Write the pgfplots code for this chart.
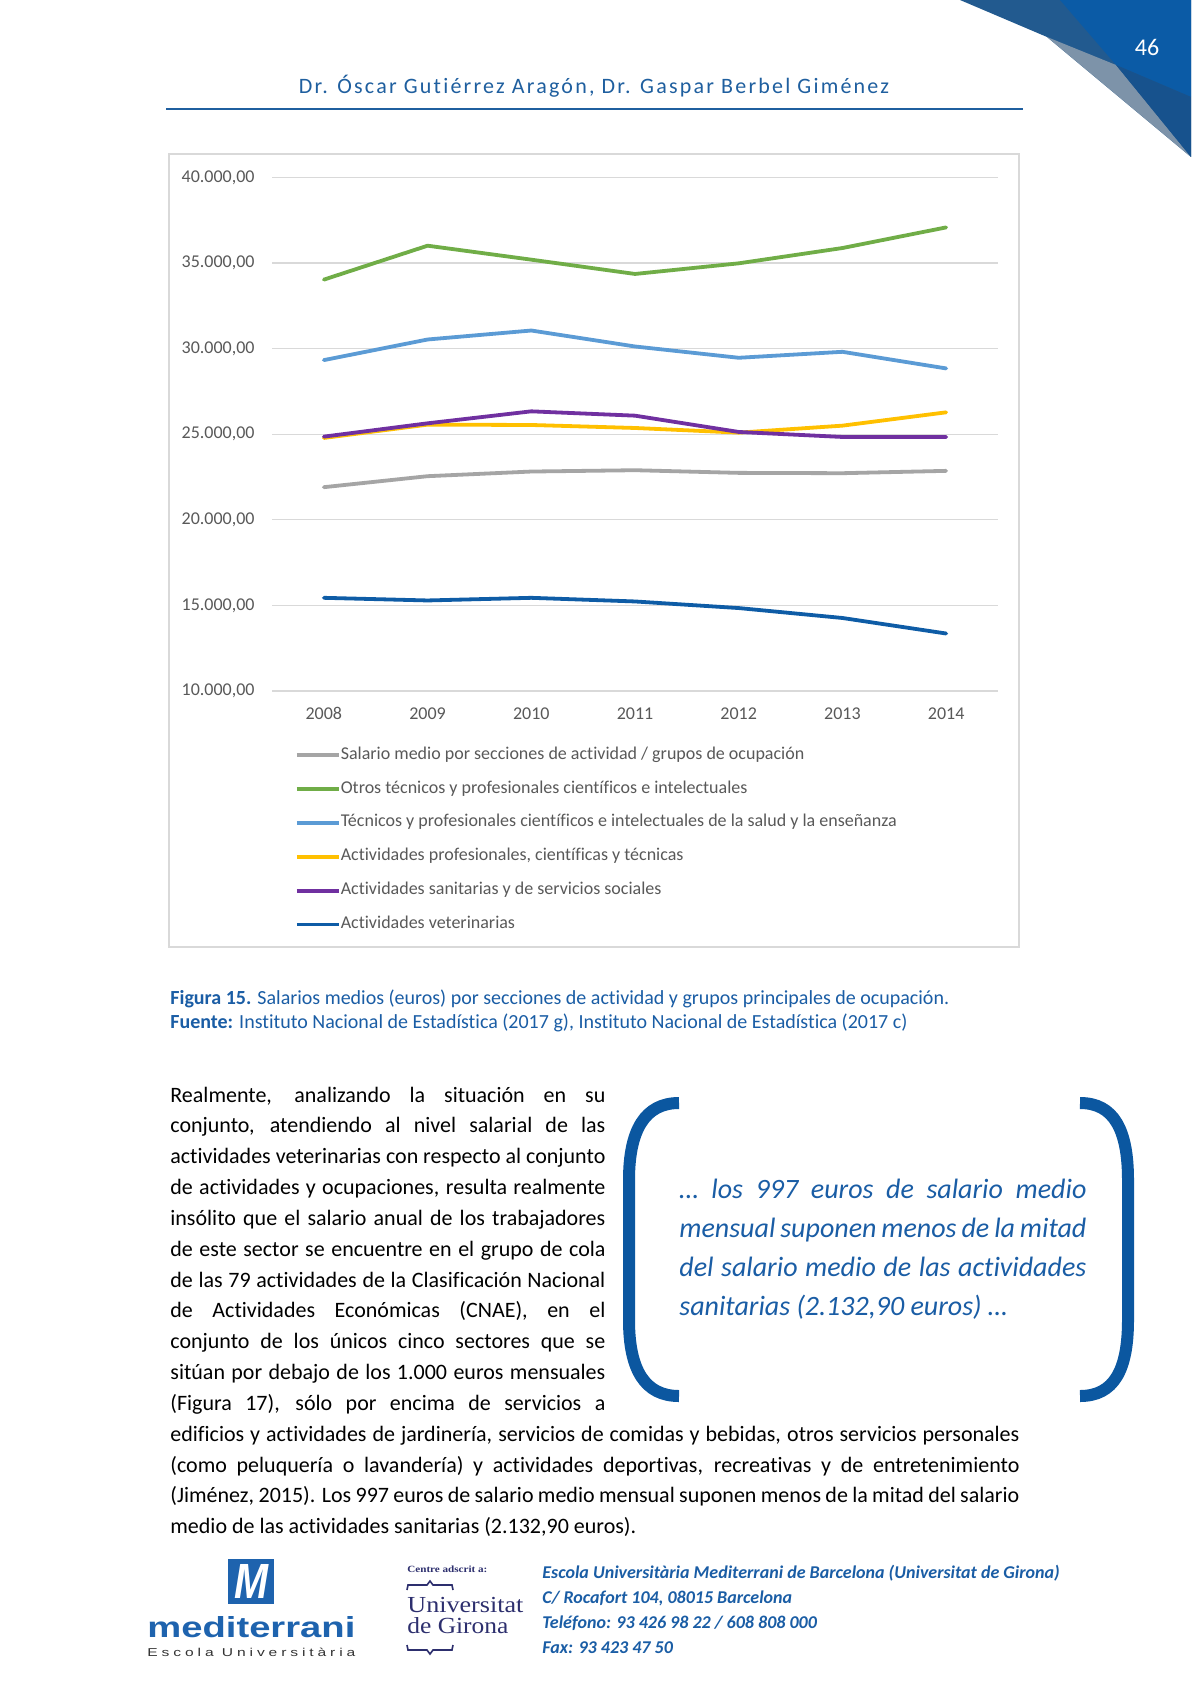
\documentclass[border=0pt]{standalone}
\usepackage{fontspec}
\setmainfont{Carlito}[Ligatures=NoCommon]
\newfontfamily\unifont{Liberation Serif}
\newfontfamily\logofont{Liberation Sans}
\newfontfamily\spacedfont[LetterSpace=25]{Liberation Sans}
\newfontfamily\headfont[LetterSpace=10,Ligatures=NoCommon]{Carlito}
\usepackage{graphicx}
\usepackage{pgfplots}
\pgfplotsset{compat=1.18}
\definecolor{chartgray}{HTML}{595959}
\definecolor{gridgray}{HTML}{D9D9D9}
\definecolor{cgray}{HTML}{A5A5A5}
\definecolor{cgreen}{HTML}{70AD47}
\definecolor{clblue}{HTML}{5B9BD5}
\definecolor{cyellow}{HTML}{FFC000}
\definecolor{cpurple}{HTML}{7030A0}
\definecolor{cdblue}{HTML}{0E5CA6}
\definecolor{headblue}{HTML}{1F5F9F}
\definecolor{textblue}{HTML}{1A5DA5}
\definecolor{bracketblue}{HTML}{0B57A0}
\definecolor{tri1}{HTML}{225A8F}
\definecolor{tri2}{HTML}{0B5BA6}
\definecolor{tri3}{HTML}{7D93A9}
\definecolor{tri4}{HTML}{17528D}
\definecolor{logoblue}{HTML}{1E63AE}
\definecolor{uninavy}{HTML}{2D2F6E}
\newcommand{\bodyfont}{\fontsize{11pt}{13pt}\selectfont}
\newcommand{\Lline}[1]{\makebox[217.5pt][s]{#1}}
\newcommand{\Fline}[1]{\makebox[424.5pt][s]{#1}}
\newcommand{\Qline}[1]{\makebox[203.5pt][s]{#1}}
\begin{document}
\begin{tikzpicture}
\useasboundingbox[fill=white] (0pt,0pt) rectangle (595.5pt,-842pt);
\begin{scope}[x=0.5pt,y=-0.5pt]
% corner decoration
\fill[tri1] (960,0) -- (1191,0) -- (1191,157) -- (1047,37) -- cycle;
\fill[tri2] (1060,0) -- (1191,0) -- (1191,97) -- (1116,65) -- cycle;
\fill[tri3] (1047,37) -- (1116,65) -- (1191,157) -- cycle;
\fill[tri4] (1116,65) -- (1191,97) -- (1191,157) -- cycle;
\node[anchor=base, inner sep=0pt, text=white, font=\fontsize{12pt}{14pt}\selectfont] at (1147,55.5) {46};
% header
\node[anchor=base, inner sep=0pt, text=headblue, font=\headfont\fontsize{11pt}{13pt}\selectfont] at (594,94) {Dr. Óscar Gutiérrez Aragón, Dr. Gaspar Berbel Giménez};
\draw[headblue, line width=1pt] (166,109.5) -- (1023,109.5);
% chart frame
\draw[gridgray, line width=0.6pt] (169,154) rectangle (1019,947);
\coordinate (A) at (272,691);
% caption
\node[anchor=base west, inner sep=0pt, text=textblue, font=\fontsize{10pt}{12pt}\selectfont] at (170,1004) {\textbf{Figura 15.} Salarios medios (euros) por secciones de actividad y grupos principales de ocupación.};
\node[anchor=base west, inner sep=0pt, text=textblue, font=\fontsize{10pt}{12pt}\selectfont] at (170,1028) {\textbf{Fuente:} Instituto Nacional de Estadística (2017 g), Instituto Nacional de Estadística (2017 c)};
% body text
\begin{scope}[every node/.style={anchor=base west, inner sep=0pt, font=\bodyfont}]
\node at (170,1102.0) {\Lline{Realmente, analizando la situación en su}};
\node at (170,1132.8) {\Lline{conjunto, atendiendo al nivel salarial de las}};
\node at (170,1163.7) {\Lline{actividades veterinarias con respecto al conjunto}};
\node at (170,1194.5) {\Lline{de actividades y ocupaciones, resulta realmente}};
\node at (170,1225.4) {\Lline{insólito que el salario anual de los trabajadores}};
\node at (170,1256.2) {\Lline{de este sector se encuentre en el grupo de cola}};
\node at (170,1287.0) {\Lline{de las 79 actividades de la Clasificación Nacional}};
\node at (170,1317.9) {\Lline{de Actividades Económicas (CNAE), en el}};
\node at (170,1348.7) {\Lline{conjunto de los únicos cinco sectores que se}};
\node at (170,1379.6) {\Lline{sitúan por debajo de los 1.000 euros mensuales}};
\node at (170,1410.4) {\Lline{(Figura 17), sólo por encima de servicios a}};
\node at (170,1441.2) {\Fline{edificios y actividades de jardinería, servicios de comidas y bebidas, otros servicios personales}};
\node at (170,1472.1) {\Fline{(como peluquería o lavandería) y actividades deportivas, recreativas y de entretenimiento}};
\node at (170,1502.9) {\Fline{(Jiménez, 2015). Los 997 euros de salario medio mensual suponen menos de la mitad del salario}};
\node at (170,1533.8) {medio de las actividades sanitarias (2.132,90 euros).};
\end{scope}
% quote brackets
\draw[bracketblue, line width=6pt] (679,1103) .. controls (645,1103) and (629,1130) .. (629,1180) -- (629,1320) .. controls (629,1370) and (645,1396) .. (679,1396);
\draw[bracketblue, line width=6pt] (1080,1103) .. controls (1114,1103) and (1128,1130) .. (1128,1180) -- (1128,1320) .. controls (1128,1370) and (1114,1396) .. (1080,1396);
\begin{scope}[every node/.style={anchor=base west, inner sep=0pt, text=textblue, font=\fontsize{14pt}{17pt}\selectfont\itshape}]
\node at (679,1198.0) {\Qline{… los 997 euros de salario medio}};
\node at (679,1237.3) {\Qline{mensual suponen menos de la mitad}};
\node at (679,1276.6) {\Qline{del salario medio de las actividades}};
\node at (679,1315.9) {sanitarias (2.132,90 euros) …};
\end{scope}
% footer logos
\fill[logoblue] (228,1559) rectangle (274,1604);
\node[inner sep=0pt, text=white] at (251,1581.5) {\resizebox{17pt}{17pt}{\logofont\bfseries\itshape M}};
\node[anchor=south west, inner sep=0pt, text=logoblue] at (147,1638) {\resizebox{104pt}{10.5pt}{\logofont\bfseries mediterrani}};
\node[anchor=south west, inner sep=0pt, text=black!80] at (147,1657) {\resizebox{104pt}{4.2pt}{\spacedfont Escola Universitària}};
\node[anchor=south west, inner sep=0pt, text=uninavy] at (407,1573) {\resizebox{40pt}{3.3pt}{\unifont\bfseries Centre adscrit a:}};
\draw[uninavy, line width=0.8pt] (407,1590) -- (408,1585) -- (427,1585) -- (430,1581) -- (433,1585) -- (452,1585) -- (453,1590);
\node[anchor=south west, inner sep=0pt, text=uninavy] at (407,1613) {\resizebox{58pt}{7.6pt}{\unifont Universitat}};
\node[anchor=south west, inner sep=0pt, text=uninavy] at (407,1634) {\resizebox{50.5pt}{8pt}{\unifont de Girona}};
\draw[uninavy, line width=0.8pt] (407,1645) -- (408,1650) -- (427,1650) -- (430,1654) -- (433,1650) -- (452,1650) -- (453,1645);
\begin{scope}[every node/.style={anchor=base west, inner sep=0pt, text=textblue, font=\fontsize{9pt}{11pt}\selectfont\bfseries\itshape}]
\node at (542,1578) {Escola Universitària Mediterrani de Barcelona (Universitat de Girona)};
\node at (542,1603) {C/ Rocafort 104, 08015 Barcelona};
\node at (542,1628) {Teléfono: 93 426 98 22 / 608 808 000};
\node at (542,1653) {Fax: 93 423 47 50};
\end{scope}
\end{scope}
\begin{axis}[
  at={(A)}, anchor=south west, scale only axis,
  width=363pt, height=256.75pt,
  xmin=2007.5, xmax=2014.5, ymin=10000, ymax=40000,
  scaled y ticks=false, scaled x ticks=false,
  xtick={2008,2009,2010,2011,2012,2013,2014},
  xticklabels={2008,2009,2010,2011,2012,2013,2014},
  ytick={10000,15000,20000,25000,30000,35000,40000},
  yticklabels={{10.000,00},{15.000,00},{20.000,00},{25.000,00},{30.000,00},{35.000,00},{40.000,00}},
  axis line style={draw=none}, major tick length=0pt,
  ymajorgrids, grid style={draw=gridgray, line width=0.6pt},
  tick label style={font=\fontsize{9pt}{11pt}\selectfont, text=chartgray},
  yticklabel style={inner sep=0pt, anchor=east, xshift=-8.5pt},
  xticklabel style={inner sep=0pt, anchor=base, yshift=-14pt},
  every axis plot/.append style={line width=1.9pt, line join=round, line cap=round},
  clip=false,
  legend cell align=left,
  legend style={at={(axis description cs:0.0317,-0.1081)}, anchor=north west, draw=none, fill=none,
    inner sep=0pt, outer sep=0pt, row sep=8.45pt, font=\fontsize{9pt}{11pt}\selectfont, text=chartgray,
    nodes={inner sep=0pt, text height=6.3pt, text depth=2.2pt}, cells={anchor=west}},
  legend image code/.code={\draw[#1, line cap=butt] (0pt,0pt) -- (21pt,0pt);},
]
\addplot[cgray] coordinates {(2008,21908)(2009,22550)(2010,22822)(2011,22899)(2012,22744)(2013,22725)(2014,22861)};
\addlegendentry{Salario medio por secciones de actividad / grupos de ocupación}
\addplot[cgreen] coordinates {(2008,34034)(2009,36016)(2010,35200)(2011,34365)(2012,34986)(2013,35880)(2014,37085)};
\addlegendentry{Otros técnicos y profesionales científicos e intelectuales}
\addplot[clblue] coordinates {(2008,29332)(2009,30536)(2010,31061)(2011,30128)(2012,29468)(2013,29817)(2014,28846)};
\addlegendentry{Técnicos y profesionales científicos e intelectuales de la salud y la enseñanza}
\addplot[cyellow] coordinates {(2008,24784)(2009,25562)(2010,25542)(2011,25367)(2012,25095)(2013,25503)(2014,26281)};
\addlegendentry{Actividades profesionales, científicas y técnicas}
\addplot[cpurple] coordinates {(2008,24862)(2009,25639)(2010,26339)(2011,26086)(2012,25134)(2013,24842)(2014,24842)};
\addlegendentry{Actividades sanitarias y de servicios sociales}
\addplot[cdblue] coordinates {(2008,15444)(2009,15290)(2010,15444)(2011,15232)(2012,14846)(2013,14266)(2014,13359)};
\addlegendentry{Actividades veterinarias}
\end{axis}
\end{tikzpicture}
\end{document}
